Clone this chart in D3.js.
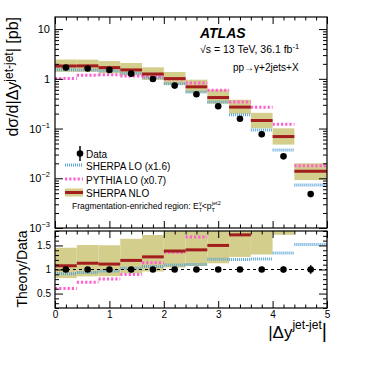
<!DOCTYPE html>
<html>
<head>
<meta charset="utf-8">
<script src="https://cdn.jsdelivr.net/npm/d3@7"></script>
<style>
body { margin: 0; background: #fff; }
text { font-family: "Liberation Sans", Arial, sans-serif; fill: #000; }
</style>
</head>
<body>
<svg id="chart" width="382" height="382"></svg>
<script>
// bins in |dy jet-jet|
var binEdges = [0, 0.4, 0.8, 1.2, 1.6, 2.0, 2.4, 2.8, 3.2, 3.6, 4.0, 4.4, 5.0];

// cross sections [pb]
var dataXsec  = [1.68, 1.61, 1.51, 1.27, 0.99, 0.73, 0.49, 0.28, 0.157, 0.077, 0.0276, 0.0048];
var dataRelErr = [0.01, 0.01, 0.01, 0.01, 0.012, 0.015, 0.02, 0.025, 0.03, 0.045, 0.065, 0.09];
var sherpaLO  = [1.53, 1.51, 1.46, 1.30, 1.05, 0.80, 0.54, 0.34, 0.19, 0.094, 0.037, 0.0073];
var pythiaLO  = [1.02, 1.18, 1.21, 1.14, 1.13, 0.99, 0.82, 0.586, 0.34, 0.269, 0.122, 0.0179];
var sherpaNLO = [1.81, 1.82, 1.68, 1.51, 1.25, 1.01, 0.69, 0.42, 0.27, 0.145, 0.069, 0.0139];
var nloLow    = [1.38, 1.38, 1.30, 1.17, 0.95, 0.76, 0.526, 0.316, 0.198, 0.101, 0.0475, 0.0092];
var nloHigh   = [2.44, 2.43, 2.27, 2.08, 1.70, 1.37, 0.96, 0.605, 0.38, 0.207, 0.101, 0.020];

// axis ticks
var xMajor = [0, 1, 2, 3, 4, 5];
var mainTicks = [1e-3, 1e-2, 1e-1, 1, 10];
var mainTickLabels = [["10", "\u22123"], ["10", "\u22122"], ["10", "\u22121"], ["1", ""], ["10", ""]];
var ratioTicks = [0.5, 1, 1.5];

var colBand = "#d4ce8c",
    colNLO = "#a21d1d",
    colSherpa = "#5aa5d8",
    colPythia = "#ff5fcf";

var L = 55, R = 327,
    mainTop = 17, mainBot = 228,
    ratioTop = 231, ratioBot = 308;

var svg = d3.select("#chart");

var x = d3.scaleLinear().domain([0, 5]).range([L, R]);
var yMain = d3.scaleLog().domain([1e-3, 17.5]).range([mainBot, mainTop]);
var yRatio = d3.scaleLinear().domain([0.2, 1.8]).range([ratioBot, ratioTop]);

var bins = dataXsec.map(function(d, i) {
    return {
        lo: binEdges[i],
        hi: binEdges[i + 1],
        mid: (binEdges[i] + binEdges[i + 1]) / 2,
        data: d,
        err: d * dataRelErr[i],
        sherpa: sherpaLO[i],
        pythia: pythiaLO[i],
        nlo: sherpaNLO[i],
        nloLo: nloLow[i],
        nloHi: nloHigh[i]
    };
});

var defs = svg.append("defs");
defs.append("clipPath").attr("id", "clipMain").append("rect")
    .attr("x", L).attr("y", mainTop).attr("width", R - L).attr("height", mainBot - mainTop);
defs.append("clipPath").attr("id", "clipRatio").append("rect")
    .attr("x", L).attr("y", ratioTop).attr("width", R - L).attr("height", ratioBot - ratioTop);

// ---- one panel of bands / step segments ----
function drawPanel(g, yScale, val) {
    g.selectAll("rect.band")
        .data(bins)
        .enter()
        .append("rect")
        .attr("class", "band")
        .attr("x", function(d) { return x(d.lo); })
        .attr("width", function(d) { return x(d.hi) - x(d.lo); })
        .attr("y", function(d) { return yScale(val(d, "nloHi")); })
        .attr("height", function(d) { return yScale(val(d, "nloLo")) - yScale(val(d, "nloHi")); })
        .attr("fill", colBand);

    var lines = [
        { key: "sherpa", color: colSherpa, width: 3, dash: "1,1" },
        { key: "pythia", color: colPythia, width: 3, dash: "2.2,2" },
        { key: "nlo", color: colNLO, width: 3, dash: null }
    ];
    lines.forEach(function(s) {
        g.selectAll("line." + s.key)
            .data(bins)
            .enter()
            .append("line")
            .attr("class", s.key)
            .attr("x1", function(d) { return x(d.lo); })
            .attr("x2", function(d) { return x(d.hi); })
            .attr("y1", function(d) { return yScale(val(d, s.key)); })
            .attr("y2", function(d) { return yScale(val(d, s.key)); })
            .attr("stroke", s.color)
            .attr("stroke-width", s.width)
            .attr("stroke-dasharray", s.dash);
    });
}

function drawData(g, yScale, val, errVal) {
    var pts = g.selectAll("g.pt")
        .data(bins)
        .enter()
        .append("g")
        .attr("class", "pt");
    pts.append("line")
        .attr("x1", function(d) { return x(d.mid); })
        .attr("x2", function(d) { return x(d.mid); })
        .attr("y1", function(d) { return yScale(val(d) + errVal(d)); })
        .attr("y2", function(d) { return yScale(val(d) - errVal(d)); })
        .attr("stroke", "#000")
        .attr("stroke-width", 1.5);
    pts.append("circle")
        .attr("cx", function(d) { return x(d.mid); })
        .attr("cy", function(d) { return yScale(val(d)); })
        .attr("r", 3.3)
        .attr("fill", "#000");
}

// main panel
var gMain = svg.append("g").attr("clip-path", "url(#clipMain)");
drawPanel(gMain, yMain, function(d, k) { return d[k]; });
drawData(gMain, yMain, function(d) { return d.data; }, function(d) { return d.err; });

// ratio panel
var gRatio = svg.append("g").attr("clip-path", "url(#clipRatio)");
drawPanel(gRatio, yRatio, function(d, k) { return d[k] / d.data; });
gRatio.append("line")
    .attr("x1", L).attr("x2", R)
    .attr("y1", yRatio(1)).attr("y2", yRatio(1))
    .attr("stroke", "#000")
    .attr("stroke-width", 1)
    .attr("stroke-dasharray", "3,3");
drawData(gRatio, yRatio, function(d) { return 1; }, function(d) { return d.err / d.data; });

// ---- axes (ROOT style, ticks inside, all four sides) ----
function tickAxis(axis, tx, ty) {
    var g = svg.append("g").attr("transform", "translate(" + tx + "," + ty + ")").call(axis);
    g.select(".domain").remove();
    g.selectAll(".tick line").attr("stroke", "#000").attr("stroke-width", 1);
    g.selectAll("text").attr("font-size", 10).attr("fill", "#000")
        .attr("font-family", "'Liberation Sans', Arial, sans-serif");
    return g;
}

var xMinor = d3.range(0, 5.001, 0.2).filter(function(v) { return Math.abs(v - Math.round(v)) > 1e-6; });
var logMinor = [];
mainTicks.forEach(function(t) {
    for (var m = 2; m <= 9; m++) {
        if (t * m < 17.5) logMinor.push(t * m);
    }
});
var ratioMinor = d3.range(0.2, 1.801, 0.1).filter(function(v) {
    return Math.abs(v * 2 - Math.round(v * 2)) > 1e-6;
});

// x ticks: main bottom/top, ratio top/bottom
[[mainBot, "b"], [mainTop, "t"], [ratioTop, "t"], [ratioBot, "b"]].forEach(function(p) {
    var mk = p[1] === "b" ? d3.axisBottom : d3.axisTop;
    var lab = p[0] === ratioBot;
    tickAxis(mk(x).tickValues(xMajor).tickSizeInner(-7).tickSizeOuter(0).tickPadding(3)
        .tickFormat(lab ? d3.format("d") : ""), 0, p[0]);
    tickAxis(mk(x).tickValues(xMinor).tickSizeInner(-3.5).tickSizeOuter(0).tickFormat(""), 0, p[0]);
});

// main y ticks
tickAxis(d3.axisLeft(yMain).tickValues(mainTicks).tickSizeInner(-8).tickSizeOuter(0).tickFormat(""), L, 0);
tickAxis(d3.axisLeft(yMain).tickValues(logMinor).tickSizeInner(-4).tickSizeOuter(0).tickFormat(""), L, 0);
tickAxis(d3.axisLeft(yMain).tickValues(mainTicks).tickSizeInner(8).tickSizeOuter(0).tickFormat(""), R, 0);
tickAxis(d3.axisLeft(yMain).tickValues(logMinor).tickSizeInner(4).tickSizeOuter(0).tickFormat(""), R, 0);

var mainLab = svg.selectAll("text.ylab")
    .data(mainTicks)
    .enter()
    .append("text")
    .attr("class", "ylab")
    .attr("x", L - 5)
    .attr("y", function(d) { return yMain(d) + 4; })
    .attr("text-anchor", "end")
    .attr("font-size", 11);
mainLab.append("tspan").text(function(d, i) { return mainTickLabels[i][0]; });
mainLab.append("tspan")
    .attr("dy", -5)
    .attr("font-size", 7.5)
    .text(function(d, i) { return mainTickLabels[i][1]; });

// ratio y ticks
tickAxis(d3.axisLeft(yRatio).tickValues(ratioTicks).tickSizeInner(-8).tickSizeOuter(0).tickPadding(4)
    .tickFormat(function(d) { return d === 1 ? "1" : d3.format(".1f")(d); }), L, 0);
tickAxis(d3.axisLeft(yRatio).tickValues(ratioMinor).tickSizeInner(-4).tickSizeOuter(0).tickFormat(""), L, 0);
tickAxis(d3.axisLeft(yRatio).tickValues(ratioTicks).tickSizeInner(8).tickSizeOuter(0).tickFormat(""), R, 0);
tickAxis(d3.axisLeft(yRatio).tickValues(ratioMinor).tickSizeInner(4).tickSizeOuter(0).tickFormat(""), R, 0);

// frames
[[mainTop, mainBot], [ratioTop, ratioBot]].forEach(function(p) {
    svg.append("rect")
        .attr("x", L).attr("y", p[0])
        .attr("width", R - L).attr("height", p[1] - p[0])
        .attr("fill", "none")
        .attr("stroke", "#000")
        .attr("stroke-width", 1.2);
});

// ---- titles ----
var yTitle = svg.append("text")
    .attr("transform", "translate(18,17) rotate(-90)")
    .attr("text-anchor", "end")
    .attr("font-size", 16);
yTitle.append("tspan").text("d\u03c3/d|\u0394y");
yTitle.append("tspan").attr("dy", -5.5).attr("font-size", 12).text("jet-jet");
yTitle.append("tspan").attr("dy", 5.5).text("| [pb]");

svg.append("text")
    .attr("transform", "translate(27,269) rotate(-90)")
    .attr("text-anchor", "middle")
    .attr("font-size", 14)
    .text("Theory/Data");

var xTitle = svg.append("text")
    .attr("x", R)
    .attr("y", 338)
    .attr("text-anchor", "end")
    .attr("font-size", 17);
xTitle.append("tspan").text("|\u0394y");
xTitle.append("tspan").attr("dy", -9).attr("font-size", 12).text("jet-jet");
xTitle.append("tspan").attr("dy", 9).attr("font-size", 20).text("|");

svg.append("text")
    .attr("x", 200).attr("y", 38)
    .attr("font-size", 14)
    .attr("font-weight", "bold")
    .attr("font-style", "italic")
    .text("ATLAS");

var sqrtS = svg.append("text")
    .attr("x", 200).attr("y", 53)
    .attr("font-size", 10.5);
sqrtS.append("tspan").text("\u221as = 13 TeV, 36.1 fb");
sqrtS.append("tspan").attr("dy", -4).attr("font-size", 7.5).text("-1");

svg.append("text")
    .attr("x", 233).attr("y", 71)
    .attr("font-size", 10)
    .text("pp\u2192\u03b3+2jets+X");

// ---- legend ----
var legend = svg.append("g");
legend.append("line")
    .attr("x1", 80).attr("x2", 80).attr("y1", 146).attr("y2", 161)
    .attr("stroke", "#000").attr("stroke-width", 1.5);
legend.append("circle").attr("cx", 80).attr("cy", 153.5).attr("r", 3.3).attr("fill", "#000");

var legendRows = [
    { label: "Data", y: 157.5 },
    { label: "SHERPA LO (x1.6)", y: 169.5, color: colSherpa, dash: "1,1" },
    { label: "PYTHIA LO (x0.7)", y: 183.5, color: colPythia, dash: "2.2,2" },
    { label: "SHERPA NLO", y: 197, color: colNLO, band: true }
];
legendRows.forEach(function(r) {
    if (r.band) {
        legend.append("rect")
            .attr("x", 65).attr("y", r.y - 8.5)
            .attr("width", 18).attr("height", 8)
            .attr("fill", colBand);
    }
    if (r.color) {
        legend.append("line")
            .attr("x1", 65).attr("x2", 83)
            .attr("y1", r.y - 4.5).attr("y2", r.y - 4.5)
            .attr("stroke", r.color)
            .attr("stroke-width", 3)
            .attr("stroke-dasharray", r.dash || null);
    }
    legend.append("text")
        .attr("x", 86).attr("y", r.y)
        .attr("font-size", 10)
        .text(r.label);
});

var frag = legend.append("text")
    .attr("x", 72).attr("y", 209)
    .attr("font-size", 8.5);
frag.append("tspan").text("Fragmentation-enriched region:  E");
frag.append("tspan").attr("dy", 2.5).attr("font-size", 5.5).text("T");
frag.append("tspan").attr("dx", -3).attr("dy", -7).attr("font-size", 5.5).text("\u03b3");
frag.append("tspan").attr("dy", 4.5).text("<p");
frag.append("tspan").attr("dy", 2.5).attr("font-size", 5.5).text("T");
frag.append("tspan").attr("dx", -3).attr("dy", -7).attr("font-size", 5.5).text("jet2");
</script>
</body>
</html>
